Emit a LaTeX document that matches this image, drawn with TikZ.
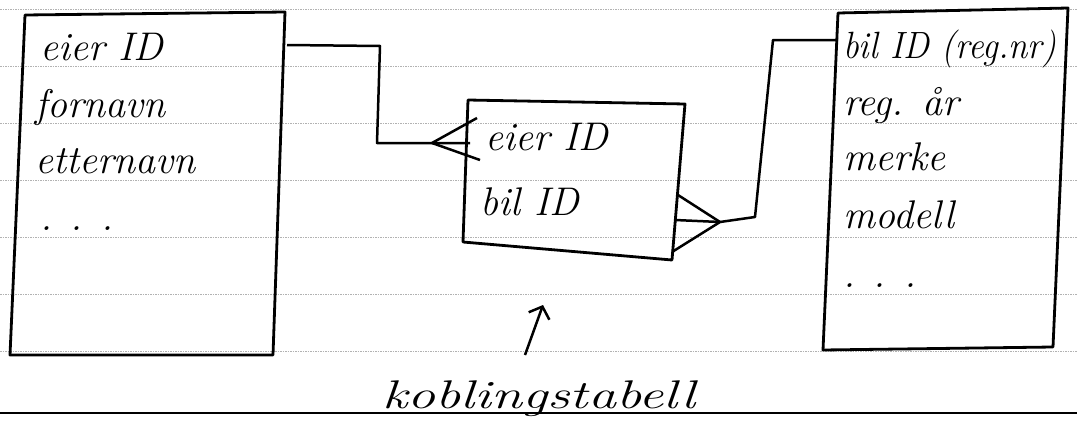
\documentclass[tikz,border=0pt]{standalone}
\usetikzlibrary{arrows.meta}
\begin{document}
\begin{tikzpicture}[x=1pt,y=-1pt,
  ruled/.style={gray!60,line width=0.9pt,dash pattern=on 1.5pt off 1pt},
  boxline/.style={line width=2.8pt,line join=round},
  conn/.style={line width=2.5pt,line join=round},
  fld/.style={anchor=base west,inner sep=0pt,font=\fontsize{40}{44}\selectfont\itshape}]
\useasboundingbox (0,0) rectangle (1077,423);
% ruled paper lines
\foreach \yy in {9,66,123,180,237,294,351}
  \draw[ruled] (0,\yy) -- (1077,\yy);
\draw[line width=2pt] (0,413) -- (1077,413);
% left box (eier)
\coordinate (L1) at (25,15);
\coordinate (L2) at (285,12);
\coordinate (L3) at (273,355);
\coordinate (L4) at (10,355);
\draw[boxline] (L1) -- (L2) -- (L3) -- (L4) -- cycle;
\node[fld] (e1) at (40,60) {eier ID};
\node[fld] (e2) at (35,117) {fornavn};
\node[fld] (e3) at (35,173) {etternavn};
\node[fld] (e4) at (40,230) {. . .};
% middle box (koblingstabell)
\coordinate (M1) at (468,100);
\coordinate (M2) at (685,104);
\coordinate (M3) at (672,260);
\coordinate (M4) at (463,242);
\draw[boxline] (M1) -- (M2) -- (M3) -- (M4) -- cycle;
\node[fld] (k1) at (485,150) {eier ID};
\node[fld] (k2) at (480,215) {bil ID};
% right box (bil)
\coordinate (R1) at (838,13);
\coordinate (R2) at (1068,8);
\coordinate (R3) at (1053,347);
\coordinate (R4) at (823,350);
\draw[boxline] (R1) -- (R2) -- (R3) -- (R4) -- cycle;
\node[fld,font=\fontsize{38}{42}\selectfont\itshape,xscale=0.92] (b1) at (843,58) {bil ID (reg.nr)};
\node[fld] (b2) at (843,115) {reg. år};
\node[fld] (b3) at (843,170) {merke};
\node[fld] (b4) at (843,228) {modell};
\node[fld] (b5) at (843,287) {. . .};
% connector eier -> koblingstabell (crow's foot at middle box)
\coordinate (c1) at (287,45);
\coordinate (c2) at (380,46);
\coordinate (c3) at (377,143);
\coordinate (lf) at (432,143);
\draw[conn] (c1) -- (c2) -- (c3) -- (470,143);
\draw[conn] (lf) -- (477,118);
\draw[conn] (lf) -- (480,160);
% connector bil -> koblingstabell (crow's foot at middle box)
\coordinate (rf) at (720,222);
\coordinate (d1) at (755,217);
\coordinate (d2) at (773,40);
\draw[conn] (R1|-d2) -- (d2) -- (d1) -- (rf);
\draw[conn] (rf) -- (678,195);
\draw[conn] (rf) -- (675,220);
\draw[conn] (rf) -- (672,252);
% label and arrow
\node[anchor=base west,inner sep=0pt,font=\fontsize{40}{44}\selectfont\itshape,xscale=1.4] (lab) at (382,408) {koblingstabell};
\coordinate (a0) at (525,355);
\coordinate (a1) at (543,305);
\draw[conn,-{Straight Barb[length=10pt,width=22pt]}] (a0) -- (a1);
\end{tikzpicture}
\end{document}
